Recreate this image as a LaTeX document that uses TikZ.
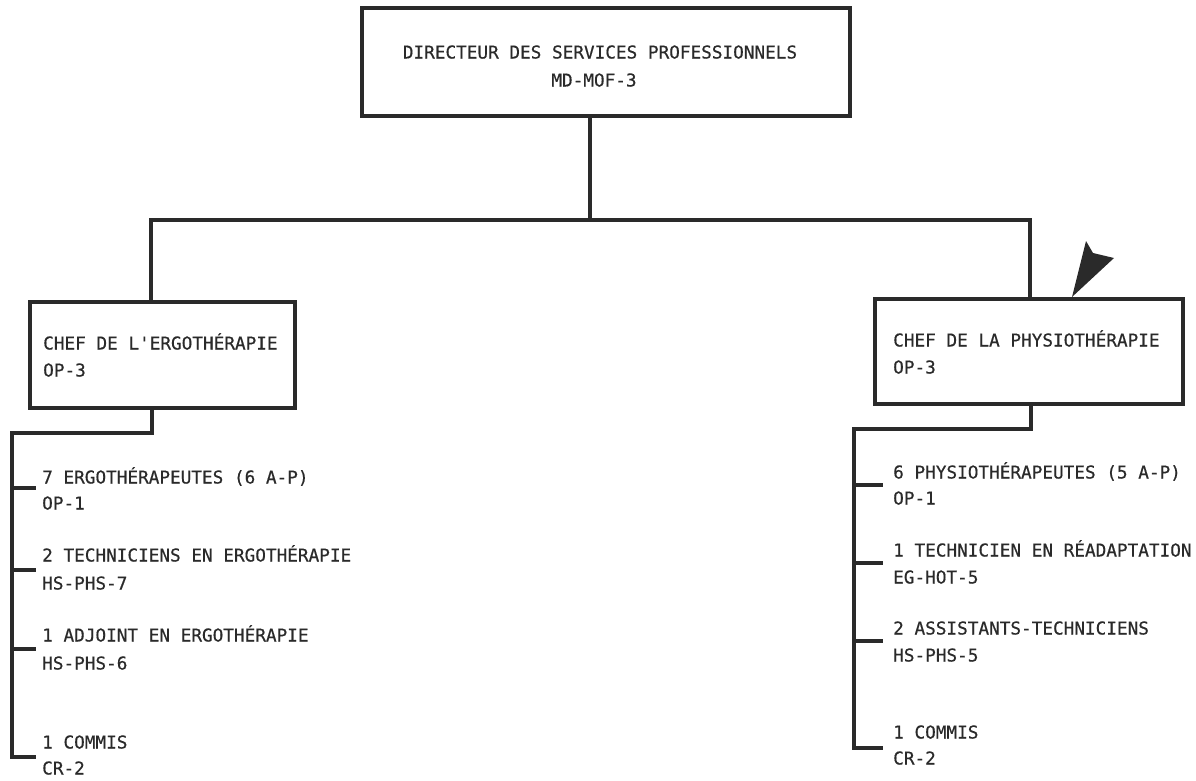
\documentclass[tikz,border=0pt]{standalone}
\usepackage{fontspec}
\newfontfamily\lblfont[FakeBold=0.5]{DejaVu Sans Mono}
\definecolor{ink}{HTML}{2A2A2A}
\tikzset{
  ln/.style={draw=ink, line width=3.2pt},
  orgbox/.style={draw=ink, line width=3.6pt, inner sep=0pt, minimum width=#1},
  lbl/.style={anchor=base west, inner sep=0pt, text=ink, font=\lblfont\fontsize{17.7}{20}\selectfont},
  clbl/.style={lbl, anchor=base},
}
\begin{document}
\begin{tikzpicture}[x=1pt,y=-1pt]
\useasboundingbox (0,0) rectangle (1196,780);

% boxes
\node[orgbox=488pt, minimum height=108pt] (dir) at (606,62) {};
\node[orgbox=265pt, minimum height=106pt] (ergo) at (162.5,355) {};
\node[orgbox=308pt, minimum height=105pt] (phys) at (1029,351.5) {};

% box texts
\node[clbl] (dirA) at (600,58.5) {DIRECTEUR DES SERVICES PROFESSIONNELS};
\node[clbl] (dirB) at (594,86.5) {MD-MOF-3};
\node[lbl] (ergoA) at (43,349.5) {CHEF DE L'ERGOTHÉRAPIE};
\node[lbl] (ergoB) at (43,376.5) {OP-3};
\node[lbl] (physA) at (893,346.5) {CHEF DE LA PHYSIOTHÉRAPIE};
\node[lbl] (physB) at (893,373.5) {OP-3};

% top connectors
\coordinate (j0) at (590,220);
\coordinate (jl) at (151,220);
\coordinate (jr) at (1030,220);
\draw[ln] (dir.south -| j0) -- (j0);
\draw[ln] (jl |- ergo.north) -- (jl) -- (jr) -- (jr |- phys.north);

% left list
\node[lbl] (e1a) at (42,483.5) {7 ERGOTHÉRAPEUTES (6 A-P)};
\node[lbl] (e1b) at (42,509.5) {OP-1};
\node[lbl] (e2a) at (42,561.5) {2 TECHNICIENS EN ERGOTHÉRAPIE};
\node[lbl] (e2b) at (42,589.5) {HS-PHS-7};
\node[lbl] (e3a) at (42,641.5) {1 ADJOINT EN ERGOTHÉRAPIE};
\node[lbl] (e3b) at (42,669.5) {HS-PHS-6};
\node[lbl] (e4a) at (42,748.5) {1 COMMIS};
\node[lbl] (e4b) at (42,774.5) {CR-2};

\coordinate (lb) at (152,433);
\coordinate (ls) at (12,433);
\coordinate (le) at (12,757);
\draw[ln] (ergo.south -| lb) -- (lb) -- (ls) -- (le) -- (36,757);
\foreach \y in {488,570,649} \draw[ln] (12,\y) -- (36,\y);

% right list
\node[lbl] (p1a) at (893,478.5) {6 PHYSIOTHÉRAPEUTES (5 A-P)};
\node[lbl] (p1b) at (893,504.5) {OP-1};
\node[lbl] (p2a) at (893,556.5) {1 TECHNICIEN EN RÉADAPTATION};
\node[lbl] (p2b) at (893,583.5) {EG-HOT-5};
\node[lbl] (p3a) at (893,634.5) {2 ASSISTANTS-TECHNICIENS};
\node[lbl] (p3b) at (893,661.5) {HS-PHS-5};
\node[lbl] (p4a) at (893,738.5) {1 COMMIS};
\node[lbl] (p4b) at (893,764.5) {CR-2};

\coordinate (rb) at (1031,429);
\coordinate (rs) at (854,429);
\coordinate (re) at (854,748);
\draw[ln] (phys.south -| rb) -- (rb) -- (rs) -- (re) -- (883,748);
\foreach \y in {485,563,641} \draw[ln] (854,\y) -- (883,\y);

% arrowhead mark
\fill[ink] (1072,297) -- (1086,241) -- (1093,253) -- (1114,258) -- cycle;
\end{tikzpicture}
\end{document}
